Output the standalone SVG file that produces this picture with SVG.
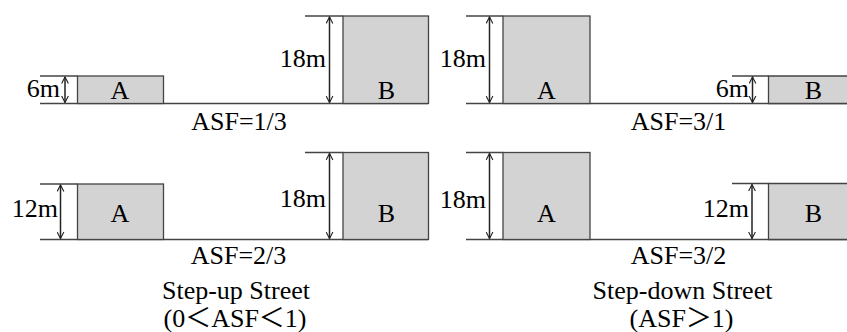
<svg xmlns="http://www.w3.org/2000/svg" width="847" height="332" viewBox="0 0 847 332">
<defs>
<marker id="ah" viewBox="0 0 10 10" refX="9" refY="5" markerWidth="8" markerHeight="8" markerUnits="userSpaceOnUse" orient="auto-start-reverse">
<path d="M1,0.8 L9,5 L1,9.2" fill="none" stroke="#222" stroke-width="1.4"/>
</marker>
<style>
.g{stroke:#444;stroke-width:1.3;fill:none}
.b{fill:#d3d3d3;stroke:#444;stroke-width:1.3}
.d{stroke:#222;stroke-width:1.5;fill:none}
text{font-size:26px;fill:#000}
.m{text-anchor:middle}
.e{text-anchor:end}
</style>
</defs>
<g font-family="'Liberation Serif', 'Noto Sans CJK SC', serif">
<g id="panel-tl">
<g id="tl-ground"><path class="g" d="M40,103.5 H428"/><path class="g" d="M40,76 H77.5"/><path class="g" d="M305,16 H343"/></g>
<g id="tl-A"><rect class="b" x="77.5" y="76" width="86" height="27.5"/><text class="m" x="120" y="99">A</text></g>
<g id="tl-B"><rect class="b" x="343" y="16" width="85.5" height="87.5"/><text class="m" x="386.5" y="99">B</text></g>
<g id="tl-dims"><path class="d" d="M65,77 V102.5" marker-start="url(#ah)" marker-end="url(#ah)"/><text class="e" x="60" y="97">6m</text><path class="d" d="M329.5,17 V102.5" marker-start="url(#ah)" marker-end="url(#ah)"/><text class="e" x="326" y="67">18m</text></g>
<text class="m" x="239" y="130">ASF=1/3</text>
</g>
<g id="panel-tr">
<g id="tr-ground"><path class="g" d="M466,103.5 H847"/><path class="g" d="M466,16 H503"/><path class="g" d="M732,76 H768.5"/></g>
<g id="tr-A"><rect class="b" x="503" y="16" width="87" height="87.5"/><text class="m" x="546.5" y="99">A</text></g>
<g id="tr-B"><path class="b" d="M848,76 H768.5 V103.5 H848"/><text class="m" x="813.5" y="99">B</text></g>
<g id="tr-dims"><path class="d" d="M489.5,17 V102.5" marker-start="url(#ah)" marker-end="url(#ah)"/><text class="e" x="486" y="67">18m</text><path class="d" d="M752.5,77 V102.5" marker-start="url(#ah)" marker-end="url(#ah)"/><text class="e" x="749" y="97">6m</text></g>
<text class="m" x="678.5" y="130">ASF=3/1</text>
</g>
<g id="panel-bl">
<g id="bl-ground"><path class="g" d="M40,239.5 H428"/><path class="g" d="M40,184 H77.5"/><path class="g" d="M305,152.5 H343"/></g>
<g id="bl-A"><rect class="b" x="77.5" y="184" width="86" height="55.5"/><text class="m" x="120" y="222">A</text></g>
<g id="bl-B"><rect class="b" x="343" y="152.5" width="85.5" height="87"/><text class="m" x="386.5" y="222">B</text></g>
<g id="bl-dims"><path class="d" d="M60.5,185 V238.5" marker-start="url(#ah)" marker-end="url(#ah)"/><text class="e" x="58" y="217">12m</text><path class="d" d="M329.5,153.5 V238.5" marker-start="url(#ah)" marker-end="url(#ah)"/><text class="e" x="326" y="207">18m</text></g>
<text class="m" x="238.5" y="264">ASF=2/3</text>
<text class="m" x="236" y="299">Step-up Street</text>
<text class="m" x="235" y="327">(0＜ASF＜1)</text>
</g>
<g id="panel-br">
<g id="br-ground"><path class="g" d="M466,239.5 H847"/><path class="g" d="M466,152.5 H503"/><path class="g" d="M732,183.5 H768.5"/></g>
<g id="br-A"><rect class="b" x="503" y="152.5" width="87" height="87"/><text class="m" x="546.5" y="222">A</text></g>
<g id="br-B"><path class="b" d="M848,183.5 H768.5 V239.5 H848"/><text class="m" x="813.5" y="222">B</text></g>
<g id="br-dims"><path class="d" d="M489.5,153.5 V238.5" marker-start="url(#ah)" marker-end="url(#ah)"/><text class="e" x="486" y="208">18m</text><path class="d" d="M752,184.5 V238.5" marker-start="url(#ah)" marker-end="url(#ah)"/><text class="e" x="749" y="217">12m</text></g>
<text class="m" x="678.5" y="264">ASF=3/2</text>
<text class="m" x="682.5" y="299">Step-down Street</text>
<text class="m" x="681.5" y="327">(ASF＞1)</text>
</g>
</g>
</svg>
